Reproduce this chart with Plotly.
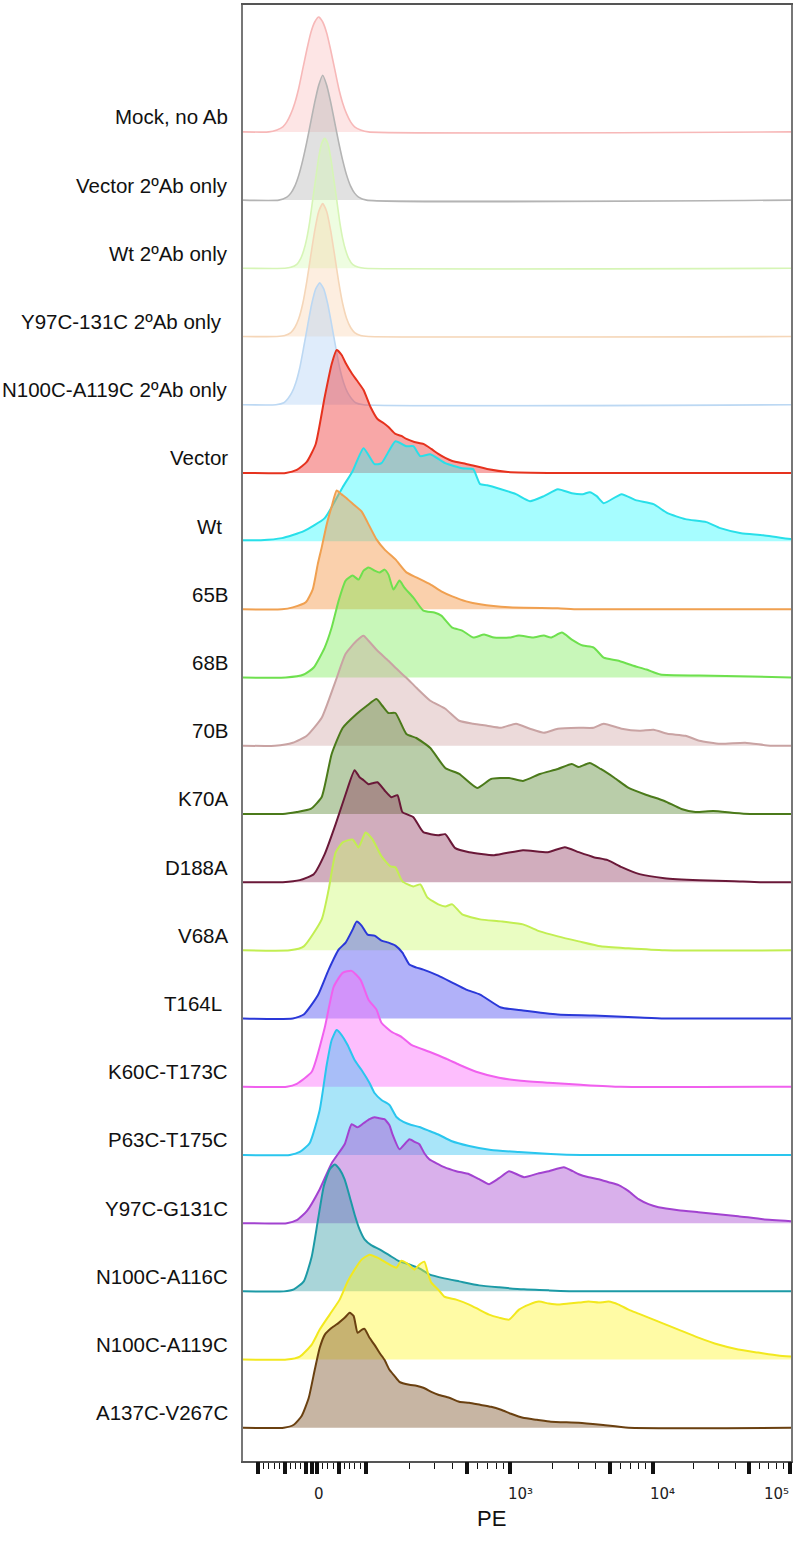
import numpy as np
import plotly.graph_objects as go

# ---------------- data ----------------
ROW_LABELS = ["Mock, no Ab", "Vector 2ºAb only", "Wt 2ºAb only", "Y97C-131C 2ºAb only",
              "N100C-A119C 2ºAb only", "Vector", "Wt", "65B", "68B", "70B", "K70A", "D188A",
              "V68A", "T164L", "K60C-T173C", "P63C-T175C", "Y97C-G131C", "N100C-A116C",
              "N100C-A119C", "A137C-V267C"]
LABEL_TRAILING_SPACE = [False, False, False, True, False, False, True, False, False, False,
                        False, False, False, True, False, False, False, False, False, False]

# x = display channel of PE (logicle-like scale), h = normalized count
mock_x = [-69, -43, -35, -29, -25, -21, -17, -13, -9, -5, -1, 3, 7, 11, 15, 19, 23, 27, 31, 35, 39, 43, 49, 57, 481]
mock_h = [0, 0, 2, 5, 10, 18, 29, 44, 63, 82, 99, 110, 115, 110, 99, 82, 63, 44, 29, 18, 10, 5, 2, 0, 0]

vec2_x = [-69, -33, -25, -21, -17, -13, -9, -5, -1, 3, 7, 11, 15, 19, 23, 27, 31, 35, 39, 43, 47, 55, 481]
vec2_h = [0, 0, 3, 7, 14, 25, 40, 58, 78, 98, 115, 125, 115, 98, 78, 58, 40, 25, 14, 7, 3, 0, 0]

wt2_x = [-69, -27, -21, -15, -11, -8, -5, -2, 1, 4, 7, 10, 13, 16, 19, 22, 25, 28, 31, 34, 37, 41, 47, 53, 481]
wt2_h = [0, 0, 1, 4, 10, 18, 30, 47, 69, 90, 111, 125, 130, 125, 111, 90, 69, 47, 30, 18, 10, 4, 1, 0, 0]

y97c2_x = [-69, -35, -27, -21, -17, -13, -9, -5, -1, 3, 7, 11, 15, 19, 23, 27, 31, 35, 39, 43, 49, 57, 481]
y97c2_h = [0, 0, 1, 4, 9, 18, 33, 55, 81, 106, 125, 133, 125, 106, 81, 55, 33, 18, 9, 4, 1, 0, 0]

n119c2_x = [-69, -36, -28, -24, -20, -16, -12, -8, -4, 0, 4, 8, 12, 16, 20, 24, 28, 32, 36, 40, 44, 52, 481]
n119c2_h = [0, 0, 2, 6, 12, 22, 37, 58, 80, 101, 116, 122, 116, 101, 80, 58, 37, 22, 12, 6, 2, 0, 0]

vector_x = [-69, -26, -15, -5, 4, 13, 20, 25, 30, 34, 40, 45, 52, 59, 66, 72, 77, 84, 90, 95, 103, 112, 120, 127, 134, 141, 155, 176, 197, 247, 481]
vector_h = [0, 0, 3, 11, 29, 76, 109, 123, 118, 110, 100, 93, 83, 66, 54, 50, 46, 39, 37, 34, 31, 29, 24, 19, 15, 12, 9, 4, 1, 0, 0]

wt_x = [-69, -51, -30, -8, 13, 31, 41, 52, 63, 70, 84, 95, 102, 109, 119, 134, 151, 162, 169, 176, 190, 205, 219, 233, 247, 261, 272, 279, 286, 293, 311, 325, 343, 357, 375, 396, 410, 431, 453, 481]
wt_h = [1, 1, 3, 10, 23, 54, 70, 93, 77, 78, 100, 95, 95, 85, 87, 78, 73, 72, 57, 56, 52, 47, 40, 45, 52, 48, 47, 49, 45, 38, 47, 41, 37, 28, 22, 19, 13, 8, 6, 2]

b65_x = [-69, -30, -19, -6, 1, 6, 10, 15, 20, 25, 30, 34, 42, 50, 56, 65, 73, 84, 95, 105, 119, 130, 141, 155, 169, 198, 247, 268, 481]
b65_h = [0, 0, 2, 7, 20, 45, 62, 85, 103, 119, 115, 112, 105, 98, 87, 70, 60, 50, 37, 32, 25, 18, 13, 8, 5, 2, 1, 0, 0]

b68_x = [-69, -26, -8, 2, 13, 20, 27, 34, 41, 47, 52, 57, 63, 68, 73, 77, 82, 88, 93, 102, 112, 123, 130, 141, 151, 162, 173, 183, 198, 208, 222, 233, 240, 251, 261, 272, 283, 293, 307, 322, 336, 350, 389, 442, 481]
b68_h = [0, 0, 3, 10, 30, 50, 77, 97, 102, 98, 107, 110, 107, 105, 108, 103, 88, 97, 90, 80, 67, 65, 62, 50, 47, 40, 43, 40, 40, 42, 40, 42, 40, 45, 38, 32, 30, 20, 17, 12, 8, 3, 2, 1, 0]

b70_x = [-69, -37, -19, -5, 10, 24, 34, 45, 52, 57, 66, 77, 84, 95, 105, 119, 134, 148, 162, 176, 190, 205, 219, 233, 247, 268, 283, 293, 311, 329, 343, 357, 375, 389, 410, 435, 460, 481]
b70_h = [0, 0, 3, 10, 28, 65, 92, 105, 110, 105, 95, 85, 78, 68, 58, 45, 37, 25, 22, 20, 18, 22, 17, 13, 17, 18, 18, 22, 17, 15, 16, 12, 10, 5, 2, 3, 0, 0]

k70a_x = [-69, -29, -15, -1, 10, 20, 31, 45, 55, 65, 71, 77, 84, 95, 105, 119, 134, 148, 166, 180, 198, 212, 229, 247, 261, 268, 279, 290, 304, 318, 336, 354, 371, 385, 403, 424, 440, 481]
k70a_h = [0, 0, 2, 5, 17, 60, 86, 100, 108, 115, 108, 101, 101, 80, 76, 66, 46, 40, 26, 35, 36, 33, 40, 45, 50, 47, 51, 45, 36, 26, 19, 13, 5, 2, 3, 1, 0, 0]

d188a_x = [-69, -29, -12, 2, 13, 24, 34, 43, 48, 52, 57, 61, 66, 73, 80, 86, 91, 102, 112, 127, 134, 144, 158, 183, 212, 237, 254, 268, 283, 297, 311, 329, 354, 389, 424, 450, 481]
d188a_h = [0, 0, 2, 8, 28, 58, 88, 112, 105, 102, 98, 99, 100, 92, 85, 87, 70, 65, 50, 47, 48, 34, 30, 27, 32, 30, 35, 30, 25, 22, 15, 8, 4, 2, 1, 0, 0]

v68a_x = [-69, -22, -8, 10, 17, 24, 31, 41, 47, 54, 61, 70, 79, 84, 91, 102, 109, 116, 127, 134, 141, 151, 169, 190, 212, 229, 247, 268, 290, 318, 354, 481]
v68a_h = [0, 0, 4, 31, 61, 98, 108, 111, 103, 118, 111, 94, 84, 83, 69, 64, 66, 53, 46, 44, 46, 36, 31, 29, 26, 19, 14, 9, 4, 2, 0, 0]

t164l_x = [-69, -19, -8, 6, 17, 27, 34, 41, 45, 50, 56, 63, 70, 77, 84, 91, 98, 105, 112, 127, 141, 155, 169, 190, 212, 247, 283, 329, 354, 481]
t164l_h = [0, 0, 4, 23, 49, 69, 76, 89, 97, 93, 84, 83, 78, 76, 73, 66, 54, 51, 49, 43, 36, 29, 24, 11, 8, 4, 3, 1, 0, 0]

k60c_x = [-69, -25, -15, 0, 13, 22, 31, 40, 49, 57, 65, 70, 80, 90, 100, 118, 135, 148, 165, 188, 210, 238, 270, 310, 481]
k60c_h = [0, 0, 3, 15, 59, 100, 114, 116, 107, 87, 77, 64, 55, 50, 42, 35, 28, 22, 15, 9, 6, 4, 2, 0, 0]

p63c_x = [-69, -22, -12, -2, 8, 15, 20, 25, 30, 36, 43, 50, 58, 63, 70, 78, 85, 92, 100, 108, 118, 128, 140, 158, 180, 208, 240, 270, 481]
p63c_h = [0, 0, 3, 12, 45, 90, 115, 125, 120, 110, 95, 85, 72, 62, 55, 50, 38, 33, 30, 28, 24, 20, 14, 9, 5, 3, 1, 0, 0]

y97c_x = [-69, -25, -15, -5, 8, 20, 33, 40, 46, 52, 58, 63, 68, 73, 78, 81, 88, 94, 98, 104, 108, 113, 118, 133, 145, 158, 168, 178, 188, 198, 213, 228, 238, 253, 262, 268, 278, 288, 298, 308, 318, 328, 338, 348, 368, 388, 408, 428, 453, 481]
y97c_h = [0, 0, 3, 12, 34, 60, 79, 99, 96, 100, 104, 106, 105, 104, 98, 89, 74, 80, 84, 81, 79, 70, 64, 56, 52, 49, 44, 39, 45, 52, 46, 50, 52, 56, 52, 49, 46, 44, 41, 38, 32, 24, 19, 16, 13, 11, 9, 7, 4, 2]

n116c_x = [-69, -28, -18, -8, 0, 6, 12, 18, 23, 28, 33, 38, 43, 48, 53, 60, 68, 78, 88, 98, 108, 118, 133, 148, 168, 188, 213, 238, 270, 481]
n116c_h = [0, 0, 2, 10, 35, 70, 105, 122, 127, 122, 112, 95, 77, 62, 52, 46, 42, 36, 30, 27, 23, 17, 13, 10, 6, 4, 2, 1, 0, 0]

n119c_x = [-69, -25, -12, 0, 8, 18, 28, 36, 43, 50, 58, 66, 73, 80, 85, 90, 96, 103, 108, 113, 117, 120, 127, 133, 145, 158, 168, 178, 188, 198, 208, 218, 228, 238, 248, 258, 268, 278, 288, 298, 308, 318, 328, 338, 353, 368, 388, 408, 428, 448, 468, 481]
n119c_h = [0, 0, 3, 15, 30, 45, 60, 78, 90, 100, 105, 102, 98, 94, 92, 99, 96, 90, 95, 98, 85, 77, 70, 63, 60, 55, 50, 45, 42, 40, 50, 55, 58, 56, 55, 56, 57, 58, 57, 58, 55, 50, 46, 42, 36, 30, 22, 15, 10, 7, 4, 3]

a137c_x = [-69, -28, -18, -10, -3, 3, 8, 13, 20, 27, 33, 38, 42, 46, 50, 53, 58, 63, 68, 73, 78, 83, 88, 98, 105, 112, 120, 127, 138, 148, 158, 169, 180, 190, 200, 212, 226, 240, 268, 290, 318, 481]
a137c_h = [0, 0, 3, 12, 30, 58, 80, 93, 100, 105, 110, 115, 112, 95, 98, 99, 90, 83, 75, 68, 58, 52, 46, 43, 42, 40, 36, 33, 30, 26, 25, 23, 21, 18, 14, 10, 8, 6, 5, 3, 0, 0]

SERIES_X = [mock_x, vec2_x, wt2_x, y97c2_x, n119c2_x, vector_x, wt_x, b65_x, b68_x, b70_x,
            k70a_x, d188a_x, v68a_x, t164l_x, k60c_x, p63c_x, y97c_x, n116c_x, n119c_x, a137c_x]
SERIES_H = [mock_h, vec2_h, wt2_h, y97c2_h, n119c2_h, vector_h, wt_h, b65_h, b68_h, b70_h,
            k70a_h, d188a_h, v68a_h, t164l_h, k60c_h, p63c_h, y97c_h, n116c_h, n119c_h, a137c_h]

LINE_COLORS = ["#f7b8b8", "#b4b4b4", "#d6f5b6", "#f5d6b8", "#bcd8f3", "#e6321e", "#28dfe9",
               "#f0a050", "#6ee04e", "#c9a3a3", "#4b7a1a", "#6a1838", "#c2ee52", "#2a38d8",
               "#f060ee", "#2ac6ee", "#a242d0", "#1c9aa6", "#f2e81e", "#6a4010"]
FILL_COLORS = ["rgba(247,160,160,0.28)", "rgba(180,180,180,0.40)", "rgba(210,250,175,0.38)",
               "rgba(250,205,165,0.35)", "rgba(175,208,245,0.40)", "rgba(240,60,60,0.45)",
               "rgba(20,250,255,0.38)", "rgba(245,150,70,0.45)", "rgba(110,235,70,0.38)",
               "rgba(200,150,150,0.35)", "rgba(80,130,40,0.40)", "rgba(140,50,90,0.40)",
               "rgba(205,250,110,0.42)", "rgba(60,60,240,0.40)", "rgba(250,110,250,0.45)",
               "rgba(40,190,240,0.40)", "rgba(170,80,210,0.45)", "rgba(40,150,160,0.40)",
               "rgba(255,245,40,0.42)", "rgba(130,90,50,0.45)"]

THICK_TICK_VALUES = [-100, -50, -10, 0, 10, 50, 100, 500, 1000, 5000, 1e4, 5e4, 1e5]
MAJOR_LABELS = [(0, "0"), (1e3, "10³"), (1e4, "10⁴"), (1e5, "10⁵")]

# ---------------- layout constants ----------------
X_RANGE = [-69, 481]
BASE0 = 1330.0
ROW_STEP = 68.25


def to_channel(v):
    v = np.asarray(v, dtype=float)
    a = np.abs(v)
    lin = a * 0.54
    lg = np.interp(np.log10(np.maximum(a, 100)), [2, 3, 4, 5], [54, 199, 342, 480])
    return np.sign(v) * np.where(a <= 100, lin, lg)


thin_vals = []
for d in [20, 30, 40, 60, 70, 80, 90]:
    thin_vals += [d, -d]
for n in [100, 1000, 10000]:
    for d in [2, 3, 4, 6, 7, 8, 9]:
        thin_vals.append(d * n)
thin_ch = [float(c) for c in to_channel(thin_vals) if X_RANGE[0] <= c <= X_RANGE[1]]
thick_ch = [float(c) for c in to_channel(THICK_TICK_VALUES) if X_RANGE[0] - 1 <= c <= X_RANGE[1] + 1]

fig = go.Figure()
for i in range(len(ROW_LABELS)):
    off = BASE0 - i * ROW_STEP
    fig.add_trace(go.Scatter(x=[X_RANGE[0], X_RANGE[1]], y=[off, off], mode="lines",
                             line=dict(width=0, color="rgba(0,0,0,0)"), showlegend=False,
                             hoverinfo="skip"))
    lw = 1.6 if i < 5 else 2.0
    fig.add_trace(go.Scatter(x=SERIES_X[i], y=[off + h for h in SERIES_H[i]], mode="lines",
                             line=dict(color=LINE_COLORS[i], width=lw, shape="spline", smoothing=0.5),
                             fill="tonexty", fillcolor=FILL_COLORS[i], showlegend=False,
                             name=ROW_LABELS[i]))

# dummy trace for the overlaying tick axis
fig.add_trace(go.Scatter(x=X_RANGE, y=[0, 0], xaxis="x2", mode="lines",
                         line=dict(width=0, color="rgba(0,0,0,0)"), showlegend=False, hoverinfo="skip"))

annotations = []
for i, lab in enumerate(ROW_LABELS):
    off = BASE0 - i * ROW_STEP
    annotations.append(dict(text=lab, xref="paper", x=-13 / 550, xanchor="right",
                            xshift=-6 if LABEL_TRAILING_SPACE[i] else 0,
                            yref="y", y=off + 15, yanchor="middle", showarrow=False,
                            font=dict(family="Liberation Sans, Arial", size=20.5, color="#111")))

for v, t in MAJOR_LABELS:
    c = float(to_channel(v))
    if v == 1e5:
        annotations.append(dict(text=t, x=c, xref="x", xanchor="right", xshift=1, yref="paper", y=0,
                                yshift=-33, yanchor="middle", showarrow=False,
                                font=dict(family="DejaVu Sans", size=15, color="#222")))
    else:
        annotations.append(dict(text=t, x=c, xref="x", xanchor="center", xshift=10 if v > 0 else 7,
                                yref="paper", y=0, yshift=-33, yanchor="middle", showarrow=False,
                                font=dict(family="DejaVu Sans", size=15, color="#222")))

annotations.append(dict(text="PE", xref="paper", x=(492 - 243) / 550, xanchor="center",
                        yref="paper", y=0, yshift=-57, yanchor="middle", showarrow=False,
                        font=dict(family="Liberation Sans, Arial", size=22, color="#111")))

fig.update_layout(
    width=796, height=1546,
    margin=dict(l=243, r=3, t=4, b=85),
    paper_bgcolor="white", plot_bgcolor="white",
    showlegend=False,
    xaxis=dict(range=X_RANGE, showline=True, linecolor="#555", linewidth=2, mirror=True,
               ticks="outside", tickmode="array", tickvals=thin_ch, ticklen=6, tickwidth=1.3,
               tickcolor="#111", showticklabels=False, showgrid=False, zeroline=False),
    xaxis2=dict(range=X_RANGE, overlaying="x", anchor="y", side="bottom", ticks="outside",
                tickmode="array", tickvals=thick_ch, ticklen=12, tickwidth=4, tickcolor="#111",
                showticklabels=False, showline=False, showgrid=False, zeroline=False),
    yaxis=dict(range=[0, 1457], showline=True, linecolor="#777", linewidth=2, mirror=True,
               showticklabels=False, ticks="", showgrid=False, zeroline=False),
    annotations=annotations,
)

fig.write_html("out.html", config={"displayModeBar": False},
               post_script="document.body.style.margin='0';document.body.style.overflow='hidden';")
